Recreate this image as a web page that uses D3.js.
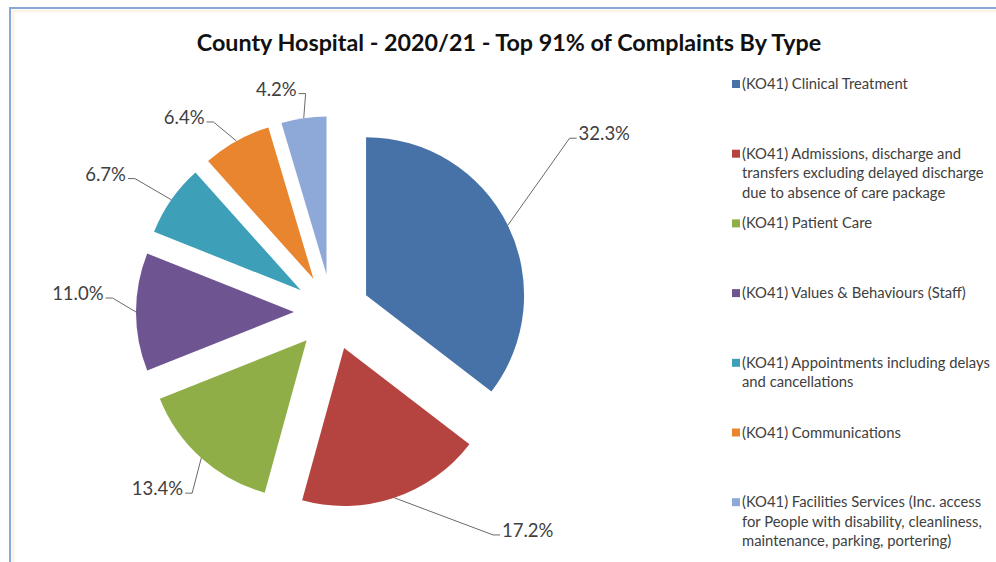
<!DOCTYPE html>
<html>
<head>
<meta charset="utf-8">
<script src="https://cdn.jsdelivr.net/npm/d3@7"></script>
<style>
  html, body { margin: 0; padding: 0; background: #fff; }
  svg { display: block; }
</style>
</head>
<body>
<svg id="chart" width="996" height="562"></svg>
<script>
// values (share of all complaints, %)
const categories = [
  "Clinical Treatment",
  "Admissions, discharge",
  "Patient Care",
  "Values & Behaviours",
  "Appointments",
  "Communications",
  "Facilities Services"
];
const values = [32.3, 17.2, 13.4, 11.0, 6.7, 6.4, 4.2];
const legendLines = [
  ["(KO41) Clinical Treatment"],
  ["(KO41) Admissions, discharge and", "transfers excluding delayed discharge", "due to absence of care package"],
  ["(KO41) Patient Care"],
  ["(KO41) Values & Behaviours (Staff)"],
  ["(KO41) Appointments including delays", "and cancellations"],
  ["(KO41) Communications"],
  ["(KO41) Facilities Services (Inc. access", "for People with disability, cleanliness,", "maintenance, parking, portering)"]
];
const colors = ["#4672A8", "#B5433F", "#8FAE48", "#6F5492", "#3DA0B8", "#E9852F", "#8EA8D8"];
const title = "County Hospital - 2020/21 - Top 91% of Complaints By Type";

// layout
const W = 996, H = 562;
const cx = 332, cy = 312, radius = 158, explode = 38;
// label elbow: angle offset (deg) from slice middle and distance from slice apex
const labelPlacement = [
  { da: -11.4, r: 257 },
  { da: -20, r: 239 },
  { da: -5, r: 191 },
  { da: 4.4, r: 182 },
  { da: -1, r: 200 },
  { da: -3.3, r: 186 },
  { da: 1.7, r: 182 }
];
const textColor = "#404040";
const font = "Lato, 'Open Sans', sans-serif";

const svg = d3.select("#chart");

// chart frame
svg.append("rect")
  .attr("x", 10).attr("y", 8)
  .attr("width", W + 20).attr("height", H + 20)
  .attr("fill", "#fff")
  .attr("stroke", "#86A8D8")
  .attr("stroke-width", 2);
svg.append("rect")
  .attr("x", 13).attr("y", 11)
  .attr("width", W + 20).attr("height", H + 20)
  .attr("fill", "none")
  .attr("stroke", "#FBF3E8")
  .attr("stroke-width", 3);

// title, fitted to the width it has in the picture
const titleText = svg.append("text")
  .attr("x", 509).attr("y", 51)
  .attr("text-anchor", "middle")
  .attr("font-family", font)
  .attr("font-weight", "bold")
  .attr("font-size", 21)
  .attr("fill", "#111")
  .text(title);
const tw = titleText.node().getComputedTextLength();
titleText.attr("font-size", 21 * 625 / tw);

// pie
const data = categories.map((c, i) => ({ name: c, value: values[i], color: colors[i] }));
const pie = d3.pie().sort(null).value(d => d.value).startAngle(0).endAngle(2 * Math.PI);
const arc = d3.arc().innerRadius(0).outerRadius(radius);
const arcs = pie(data);

const dir = a => [Math.sin(a), -Math.cos(a)];

const gPie = svg.append("g");
arcs.forEach((a, i) => {
  const mid = (a.startAngle + a.endAngle) / 2;
  const [ux, uy] = dir(mid);
  const ax = cx + explode * ux, ay = cy + explode * uy;

  gPie.append("path")
    .attr("transform", `translate(${ax},${ay})`)
    .attr("d", arc(a))
    .attr("fill", a.data.color);

  // leader line and label
  const p = labelPlacement[i];
  const [ox, oy] = [ax + radius * ux, ay + radius * uy];
  const [lx, ly] = dir(mid + p.da * Math.PI / 180);
  const ex = ax + p.r * lx, ey = ay + p.r * ly;
  const right = ex > ax;
  const stub = 7;
  const sx = right ? ex + stub : ex - stub;

  svg.append("path")
    .attr("d", `M${ox},${oy} L${ex},${ey} L${sx},${ey}`)
    .attr("fill", "none")
    .attr("stroke", "#6a6a6a")
    .attr("stroke-width", 1);

  svg.append("text")
    .attr("x", right ? sx + 2 : sx - 2)
    .attr("y", ey + 2)
    .attr("text-anchor", right ? "start" : "end")
    .attr("font-family", font)
    .attr("font-size", 18.5)
    .attr("fill", textColor)
    .text(d3.format(".1f")(a.data.value) + "%");
});

// legend
const legendX = 732, legendY = 84, legendStep = 69.7, lineStep = 19.5;
const gLegend = svg.append("g");
legendLines.forEach((lines, i) => {
  const y = legendY + i * legendStep;
  gLegend.append("rect")
    .attr("x", legendX).attr("y", y - 4)
    .attr("width", 8).attr("height", 8)
    .attr("fill", colors[i]);
  lines.forEach((line, j) => {
    gLegend.append("text")
      .attr("x", legendX + 10)
      .attr("y", y + j * lineStep + 5)
      .attr("font-family", font)
      .attr("font-size", 14.8)
      .attr("fill", textColor)
      .text(line);
  });
});
</script>
</body>
</html>
